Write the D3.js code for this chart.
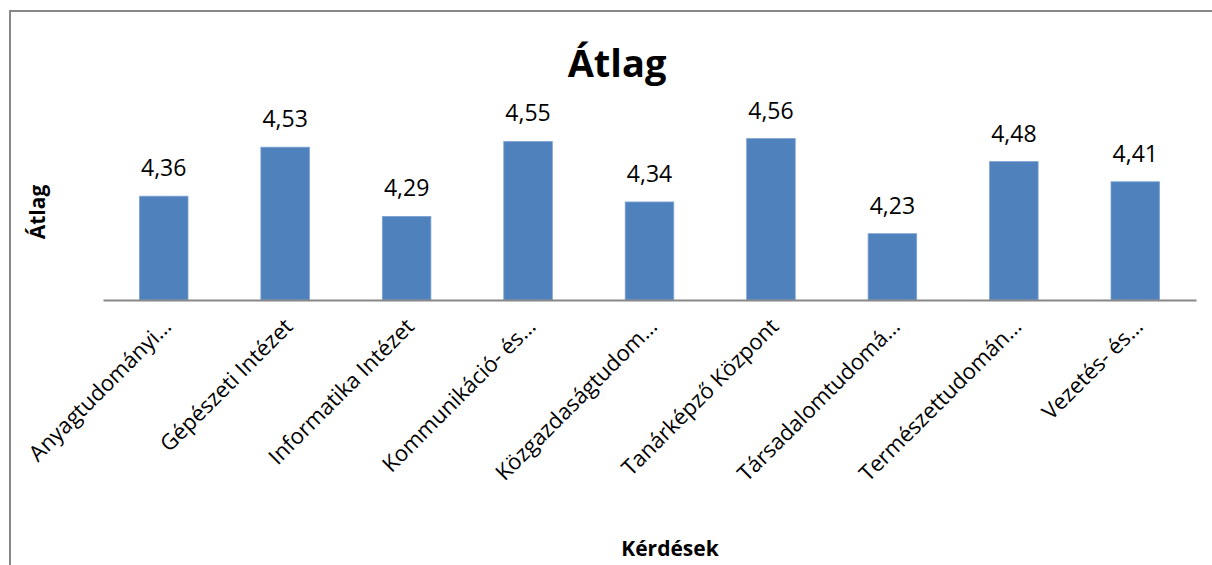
<!DOCTYPE html>
<html>
<head>
<meta charset="utf-8">
<script src="https://cdn.jsdelivr.net/npm/d3@7"></script>
<style>
  body { margin: 0; background: #fff; }
  svg text { font-family: "Open Sans", sans-serif; fill: #000; }
</style>
</head>
<body>
<div id="chart"></div>
<script>
"use strict";

// categories (as shown, truncated like the original)
const categories = [
    "Anyagtudományi…",
    "Gépészeti Intézet",
    "Informatika Intézet",
    "Kommunikáció- és…",
    "Közgazdaságtudom…",
    "Tanárképző Központ",
    "Társadalomtudomá…",
    "Természettudomán…",
    "Vezetés- és…"
];

// average values
const values = [4.36, 4.53, 4.29, 4.55, 4.34, 4.56, 4.23, 4.48, 4.41];

// hidden value axis range
const yDomain = [4.0, 4.6];

const width = 1212, height = 565;
const plot = { left: 103, right: 1196, top: 127, bottom: 300 };

const svg = d3.select("#chart")
    .append("svg")
    .attr("width", width)
    .attr("height", height);

// chart border (runs off the bottom/right edge like the screenshot)
svg.append("rect")
    .attr("x", 10)
    .attr("y", 11)
    .attr("width", 1240)
    .attr("height", 600)
    .attr("fill", "none")
    .attr("stroke", "#878787")
    .attr("stroke-width", 2);

const x = d3.scaleBand()
    .domain(categories)
    .range([plot.left, plot.right])
    .paddingInner(0.6)
    .paddingOuter(0.3);

const y = d3.scaleLinear()
    .domain(yDomain)
    .range([plot.bottom, plot.top]);

// bars
svg.append("g")
    .selectAll("rect")
    .data(values)
    .enter()
    .append("rect")
    .attr("x", (d, i) => x(categories[i]))
    .attr("y", d => y(d))
    .attr("width", x.bandwidth())
    .attr("height", d => y(yDomain[0]) - y(d))
    .attr("fill", "#4F81BD")
    .attr("stroke", "#7FA3D1")
    .attr("stroke-width", 0.8);

// data labels
svg.append("g")
    .selectAll("text")
    .data(values)
    .enter()
    .append("text")
    .attr("x", (d, i) => x(categories[i]) + x.bandwidth() / 2)
    .attr("y", d => y(d) - 20)
    .attr("text-anchor", "middle")
    .style("font-size", "23px")
    .text(d => d.toFixed(2).replace(".", ","));

// category axis
const xAxis = svg.append("g")
    .attr("transform", `translate(0,${plot.bottom})`)
    .call(d3.axisBottom(x).tickSize(0).tickSizeOuter(0).tickPadding(0));

xAxis.select(".domain")
    .attr("stroke", "#878787")
    .attr("stroke-width", 2);

xAxis.selectAll(".tick text")
    .attr("text-anchor", "end")
    .attr("x", 0)
    .attr("y", 0)
    .attr("dy", 0)
    .attr("transform", "translate(9,28) rotate(-45)")
    .style("font-size", "22px");

// title
svg.append("text")
    .attr("x", 617)
    .attr("y", 77)
    .attr("text-anchor", "middle")
    .style("font-size", "38px")
    .style("font-weight", "bold")
    .text("Átlag");

// value axis title
svg.append("text")
    .attr("transform", "translate(45,212) rotate(-90)")
    .attr("text-anchor", "middle")
    .style("font-size", "21px")
    .style("font-weight", "bold")
    .text("Átlag");

// category axis title
svg.append("text")
    .attr("x", 670)
    .attr("y", 556)
    .attr("text-anchor", "middle")
    .style("font-size", "21px")
    .style("font-weight", "bold")
    .text("Kérdések");
</script>
</body>
</html>
